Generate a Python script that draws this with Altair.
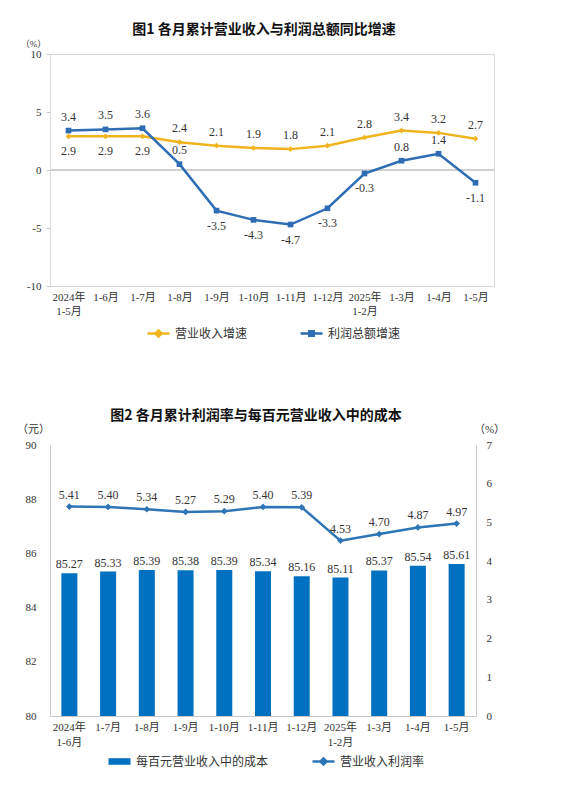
import altair as alt
import pandas as pd

# 图1：各月累计营业收入与利润总额同比增速
months1 = ["2024年|1-5月", "1-6月", "1-7月", "1-8月", "1-9月", "1-10月",
           "1-11月", "1-12月", "2025年|1-2月", "1-3月", "1-4月", "1-5月"]
revenue_growth = [2.9, 2.9, 2.9, 2.4, 2.1, 1.9, 1.8, 2.1, 2.8, 3.4, 3.2, 2.7]
profit_growth = [3.4, 3.5, 3.6, 0.5, -3.5, -4.3, -4.7, -3.3, -0.3, 0.8, 1.4, -1.1]
series1 = ["营业收入增速", "利润总额增速"]

# 图2：各月累计利润率与每百元营业收入中的成本
months2 = ["2024年|1-6月", "1-7月", "1-8月", "1-9月", "1-10月", "1-11月",
           "1-12月", "2025年|1-2月", "1-3月", "1-4月", "1-5月"]
cost_per_100 = [85.27, 85.33, 85.39, 85.38, 85.39, 85.34, 85.16, 85.11, 85.37, 85.54, 85.61]
profit_margin = [5.41, 5.40, 5.34, 5.27, 5.29, 5.40, 5.39, 4.53, 4.70, 4.87, 4.97]
series2 = ["每百元营业收入中的成本", "营业收入利润率"]

FONT_NUM = "Liberation Serif, Noto Sans CJK SC, serif"
FONT_CJK = "Noto Sans CJK SC, sans-serif"
YELLOW = "#F0B41E"
BLUE = "#2E6DB4"
BAR_BLUE = "#0070C0"
LINE_BLUE = "#2E75B6"
TXT = "#333333"
GRAY = "#c8c8c8"

# legend symbols (unit coords): line + marker, and a wide bar
SYM_DIAMOND = "M-1,0H1M0,-0.28L0.28,0L0,0.28L-0.28,0Z"
SYM_SQUARE = "M-1,0H1M-0.2,-0.2H0.2V0.2H-0.2Z"
SYM_BAR = "M-1,-0.3H1V0.3H-1Z"

# plain hyphen for negatives, as in the source chart
HYPHEN_LABEL = "(datum.value < 0 ? '-' : '') + abs(datum.value)"


def legend(x, y, sym, fill):
    return alt.Legend(title=None, orient="none", legendX=x, legendY=y, symbolType=sym,
                      symbolSize=484, symbolStrokeWidth=2.5, symbolFillColor=fill,
                      labelFont=FONT_CJK, labelFontSize=12, labelColor=TXT, labelOffset=4)


# ---------- chart 1 ----------
rows = []
for m, r, p in zip(months1, revenue_growth, profit_growth):
    rows.append({"月份": m, "指标": series1[0], "增速": r, "上方": r > p})
    rows.append({"月份": m, "指标": series1[1], "增速": p, "上方": p >= 0})
df1 = pd.DataFrame(rows)

x1 = alt.X("月份:N", sort=months1, title=None,
           axis=alt.Axis(labelAngle=0, labelExpr="split(datum.label, '|')", ticks=False,
                         domain=False, labelFont=FONT_NUM, labelFontSize=11, labelColor=TXT,
                         labelPadding=5, labelLineHeight=14))
y1 = alt.Y("增速:Q", scale=alt.Scale(domain=[-10, 10]),
           axis=alt.Axis(values=[-10, -5, 0, 5, 10], labelExpr=HYPHEN_LABEL, grid=False,
                         domain=False, tickSize=4, tickColor=GRAY, labelPadding=5,
                         labelFont=FONT_NUM, labelFontSize=11, labelColor=TXT, title="（%）",
                         titleAngle=0, titleX=-17, titleY=-11, titleAlign="center",
                         titleBaseline="middle", titleFont=FONT_NUM, titleFontSize=9,
                         titleFontWeight="normal", titleColor=TXT))
base1 = alt.Chart(df1).transform_calculate(
    标签="(datum['增速'] < 0 ? '-' : '') + format(abs(datum['增速']), '.1f')")


def series_layers(name, col, marker, channel, leg):
    d = base1.transform_filter(alt.datum["指标"] == name)
    enc = channel("指标:N", scale=alt.Scale(domain=[name], range=[col]), legend=leg)
    line = d.mark_line(strokeWidth=2.5).encode(x1, y1, enc)
    pts = d.mark_point(shape=marker, filled=True, size=32, opacity=1, color=col).encode(x1, y1)
    up = d.transform_filter("datum['上方']").mark_text(
        dy=-14, font=FONT_NUM, fontSize=12, color=TXT).encode(x1, y1, text="标签:N")
    dn = d.transform_filter("!datum['上方']").mark_text(
        dy=15, font=FONT_NUM, fontSize=12, color=TXT).encode(x1, y1, text="标签:N")
    return [line, pts, up, dn]


zero = alt.Chart(df1).mark_rule(color="#d0d0d0", strokeWidth=1).encode(y=alt.datum(0))
rev = series_layers(series1[0], YELLOW, "diamond", alt.Color, legend(96, 267, SYM_DIAMOND, YELLOW))
prof = series_layers(series1[1], BLUE, "square", alt.Stroke, legend(249, 267, SYM_SQUARE, BLUE))

chart1 = alt.layer(zero, *rev, *prof).properties(
    width=444, height=232,
    view=alt.ViewBackground(stroke="#d9d9d9"),
    title=alt.TitleParams("图1  各月累计营业收入与利润总额同比增速", font=FONT_CJK, fontSize=14,
                          fontWeight="bold", color="#111111", anchor="middle", frame="group",
                          dx=-8, offset=2))

# ---------- chart 2 ----------
df2 = pd.DataFrame({"月份": months2, "成本": cost_per_100, "利润率": profit_margin})

x2 = alt.X("月份:N", sort=months2, title=None,
           axis=alt.Axis(labelAngle=0, labelExpr="split(datum.label, '|')", ticks=False,
                         domain=True, domainColor=GRAY, labelFont=FONT_NUM, labelFontSize=11,
                         labelColor=TXT, labelPadding=5, labelLineHeight=15))
y_cost = alt.Y("成本:Q", scale=alt.Scale(domain=[80, 90], zero=False),
               axis=alt.Axis(values=[80, 82, 84, 86, 88, 90], grid=False, domain=True,
                             domainColor=GRAY, ticks=False, labelPadding=14, labelFont=FONT_NUM,
                             labelFontSize=11, labelColor=TXT, title="（元）", titleAngle=0,
                             titleX=-17, titleY=-16, titleAlign="center", titleBaseline="middle",
                             titleFont=FONT_NUM, titleFontSize=11, titleFontWeight="normal",
                             titleColor=TXT))
y_margin = alt.Y("利润率:Q", scale=alt.Scale(domain=[0, 7]),
                 axis=alt.Axis(orient="right", values=[0, 1, 2, 3, 4, 5, 6, 7], grid=False,
                               domain=True, domainColor=GRAY, ticks=False, labelPadding=10,
                               labelFont=FONT_NUM, labelFontSize=11, labelColor=TXT,
                               title="（%）", titleAngle=0, titleX=13, titleY=-16,
                               titleAlign="center", titleBaseline="middle", titleFont=FONT_NUM,
                               titleFontSize=11, titleFontWeight="normal", titleColor=TXT))

base2 = alt.Chart(df2)
bars = base2.transform_calculate(指标=f"'{series2[0]}'").mark_bar(size=16).encode(
    x=x2, y=y_cost, y2=alt.datum(80),
    fill=alt.Fill("指标:N", scale=alt.Scale(domain=[series2[0]], range=[BAR_BLUE]),
                  legend=legend(57, 304, SYM_BAR, BAR_BLUE)))
bar_lab = base2.mark_text(dy=-9, font=FONT_NUM, fontSize=12, color=TXT).encode(
    x=x2, y=y_cost, text=alt.Text("成本:Q", format=".2f"))
line2 = base2.transform_calculate(指标=f"'{series2[1]}'").mark_line(strokeWidth=2.5).encode(
    x=x2, y=y_margin,
    stroke=alt.Stroke("指标:N", scale=alt.Scale(domain=[series2[1]], range=[LINE_BLUE]),
                      legend=legend(261, 304, SYM_DIAMOND, LINE_BLUE)))
pts2 = base2.mark_point(shape="diamond", filled=True, size=45, opacity=1, color=LINE_BLUE).encode(
    x=x2, y=y_margin)
line_lab = base2.mark_text(dy=-12, font=FONT_NUM, fontSize=12, color=TXT).encode(
    x=x2, y=y_margin, text=alt.Text("利润率:Q", format=".2f"))

chart2 = alt.layer(
    alt.layer(bars, bar_lab),
    alt.layer(line2, pts2, line_lab),
).resolve_scale(y="independent").properties(
    width=426, height=271,
    view=alt.ViewBackground(stroke="transparent"),
    title=alt.TitleParams("图2  各月累计利润率与每百元营业收入中的成本", font=FONT_CJK, fontSize=14,
                          fontWeight="bold", color="#111111", anchor="middle", frame="group",
                          dx=-7, offset=0))

chart = alt.vconcat(chart1, chart2, spacing=65).resolve_scale(
    x="independent", y="independent", color="independent", stroke="independent",
    fill="independent"
).resolve_legend(color="independent", stroke="independent", fill="independent").properties(
    padding={"left": 8, "top": 14, "right": 5, "bottom": 5}
).configure(background="white")

chart.save("out.html", embed_options={"renderer": "svg", "actions": False})
